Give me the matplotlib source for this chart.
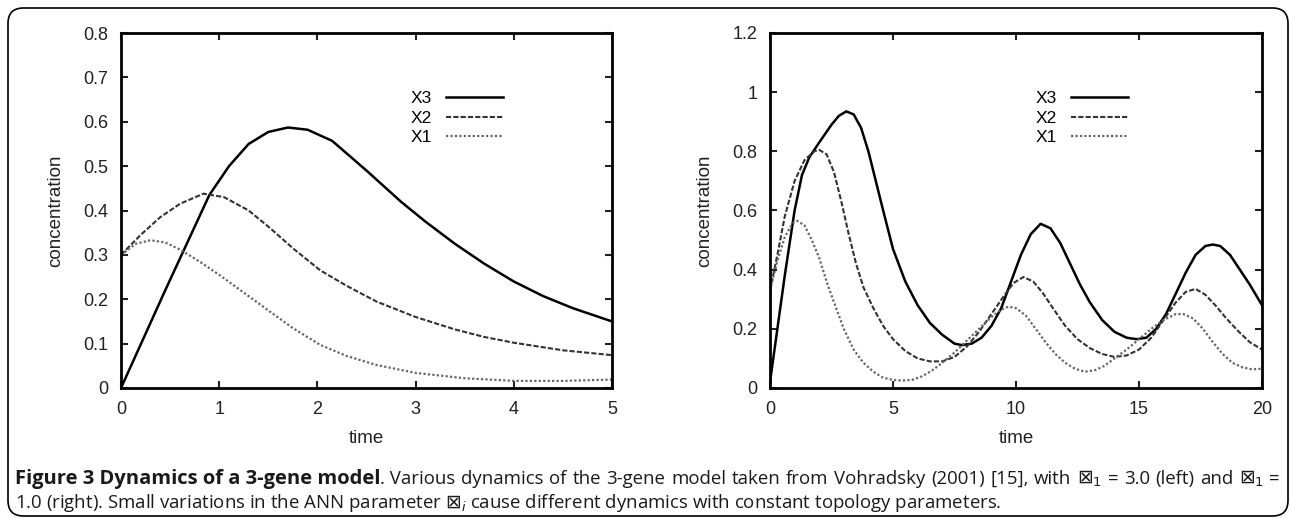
import matplotlib
matplotlib.use("Agg")
import matplotlib.pyplot as plt
from matplotlib.patches import FancyBboxPatch

# left panel data (t = 0..5)
t_left_x3 = [0, 0.45, 0.9, 1.1, 1.3, 1.5, 1.7, 1.9, 2.15, 2.5, 2.85, 3.1, 3.4, 3.7, 4.0, 4.3, 4.6, 5.0]
x3_left = [0.0, 0.22, 0.435, 0.5, 0.55, 0.577, 0.587, 0.582, 0.557, 0.49, 0.42, 0.375, 0.325, 0.28,
           0.24, 0.207, 0.18, 0.15]
t_left_x2 = [0, 0.2, 0.4, 0.6, 0.84, 1.05, 1.3, 1.52, 1.75, 2.03, 2.3, 2.6, 3.0, 3.4, 3.7, 4.0, 4.5, 5.0]
x2_left = [0.3, 0.345, 0.385, 0.415, 0.438, 0.43, 0.4, 0.36, 0.315, 0.265, 0.23, 0.195, 0.16, 0.132,
           0.115, 0.102, 0.085, 0.074]
t_left_x1 = [0, 0.15, 0.3, 0.45, 0.6, 0.8, 1.0, 1.25, 1.48, 1.75, 2.03, 2.3, 2.6, 3.0, 3.5, 4.0, 4.5, 5.0]
x1_left = [0.3, 0.325, 0.333, 0.328, 0.312, 0.285, 0.255, 0.215, 0.178, 0.135, 0.097, 0.072, 0.052,
           0.034, 0.022, 0.016, 0.016, 0.019]

# right panel data (t = 0..20)
t_right_x3 = [0, 0.3, 0.6, 1, 1.3, 1.6, 2, 2.5, 2.8, 3.1, 3.4, 3.7, 4, 4.3, 4.6, 5, 5.5, 6, 6.5, 7,
              7.5, 7.8, 8.2, 8.6, 9, 9.4, 9.8, 10.2, 10.6, 11, 11.4, 11.8, 12.2, 12.6, 13, 13.5, 14,
              14.5, 14.9, 15.3, 15.7, 16.1, 16.5, 16.9, 17.3, 17.7, 18, 18.3, 18.7, 19.1, 19.5, 20]
x3_right = [0.02, 0.2, 0.38, 0.6, 0.72, 0.78, 0.83, 0.89, 0.92, 0.935, 0.925, 0.88, 0.8, 0.7, 0.6,
            0.47, 0.36, 0.28, 0.22, 0.18, 0.15, 0.145, 0.15, 0.17, 0.21, 0.27, 0.36, 0.45, 0.52,
            0.555, 0.54, 0.49, 0.42, 0.35, 0.29, 0.23, 0.19, 0.17, 0.165, 0.17, 0.2, 0.25, 0.32,
            0.39, 0.45, 0.48, 0.485, 0.48, 0.45, 0.4, 0.35, 0.28]
t_right_x2 = [0, 0.3, 0.6, 1, 1.4, 1.8, 2, 2.3, 2.6, 2.9, 3.2, 3.5, 3.8, 4.2, 4.6, 5, 5.5, 6, 6.5, 7,
              7.5, 8, 8.5, 9, 9.5, 9.9, 10.3, 10.7, 11.1, 11.5, 12, 12.5, 13, 13.5, 14, 14.5, 15,
              15.5, 16, 16.5, 16.9, 17.3, 17.7, 18.1, 18.5, 19, 19.5, 20]
x2_right = [0.33, 0.45, 0.58, 0.7, 0.77, 0.8, 0.805, 0.79, 0.73, 0.63, 0.52, 0.42, 0.34, 0.27, 0.21,
            0.165, 0.125, 0.1, 0.09, 0.09, 0.105, 0.14, 0.19, 0.25, 0.31, 0.355, 0.375, 0.36, 0.32,
            0.27, 0.21, 0.165, 0.135, 0.115, 0.105, 0.11, 0.13, 0.17, 0.23, 0.29, 0.325, 0.335,
            0.315, 0.28, 0.24, 0.195, 0.155, 0.13]
t_right_x1 = [0, 0.3, 0.6, 0.9, 1.1, 1.4, 1.7, 2, 2.3, 2.6, 3, 3.4, 3.8, 4.2, 4.6, 5, 5.4, 5.8, 6.2,
              6.6, 7, 7.5, 8, 8.5, 9, 9.4, 9.7, 10, 10.4, 10.8, 11.2, 11.6, 12, 12.4, 12.8, 13.2,
              13.6, 14, 14.5, 15, 15.5, 16, 16.5, 16.8, 17.2, 17.6, 18, 18.4, 18.8, 19.2, 19.6, 20]
x1_right = [0.33, 0.43, 0.51, 0.555, 0.565, 0.55, 0.5, 0.44, 0.36, 0.29, 0.2, 0.13, 0.085, 0.055,
            0.035, 0.027, 0.025, 0.028, 0.04, 0.06, 0.085, 0.12, 0.16, 0.2, 0.24, 0.265, 0.275,
            0.27, 0.245, 0.2, 0.155, 0.115, 0.085, 0.065, 0.055, 0.06, 0.075, 0.1, 0.13, 0.165,
            0.2, 0.23, 0.25, 0.25, 0.235, 0.2, 0.155, 0.115, 0.085, 0.07, 0.063, 0.065]

left_yticks = [0, 0.1, 0.2, 0.3, 0.4, 0.5, 0.6, 0.7, 0.8]
left_ylabels = ["0", "0.1", "0.2", "0.3", "0.4", "0.5", "0.6", "0.7", "0.8"]
left_xticks = [0, 1, 2, 3, 4, 5]
right_yticks = [0, 0.2, 0.4, 0.6, 0.8, 1.0, 1.2]
right_ylabels = ["0", "0.2", "0.4", "0.6", "0.8", "1", "1.2"]
right_xticks = [0, 5, 10, 15, 20]

caption_bold = "Figure 3 Dynamics of a 3-gene model"
caption_line1 = [". Various", "dynamics", "of", "the", "3-gene", "model", "taken", "from", "Vohradsky",
                 "(2001)", "[15],", "with", r"$\boxtimes_1$", "=", "3.0", "(left)", "and",
                 r"$\boxtimes_1$", "="]
caption_line2 = ("1.0 (right). Small variations in the ANN parameter $\\boxtimes_i$ cause different "
                 "dynamics with constant topology parameters.")

plt.rcParams['font.family'] = ['Liberation Sans', 'DejaVu Sans']

fig = plt.figure(figsize=(12.9, 5.18), dpi=100)
W, H = 1290, 518

# rounded frame around the whole figure
frame = FancyBboxPatch((8 / W, 2 / H), (1288 - 8) / W, (510 - 2) / H,
                       boxstyle="round,pad=0,rounding_size=0.012",
                       transform=fig.transFigure, fill=False, ec="black", lw=1.2,
                       mutation_aspect=W / H)
fig.patches.append(frame)

ax1 = fig.add_axes([121 / W, 1 - 388 / H, (612 - 121) / W, (388 - 33) / H])
ax2 = fig.add_axes([770 / W, 1 - 388 / H, (1262 - 770) / W, (388 - 33) / H])

def style(ax, xlim, ylim, xticks, yticks, ylabels):
    ax.set_xlim(xlim)
    ax.set_ylim(ylim)
    ax.set_xticks(xticks)
    ax.set_xticklabels([str(v) for v in xticks])
    ax.set_yticks(yticks)
    ax.set_yticklabels(ylabels)
    ax.tick_params(direction="in", top=True, right=True, length=5, width=1.5,
                   labelsize=13, colors="#222222", pad=9)
    for s in ax.spines.values():
        s.set_linewidth(2)
    ax.set_xlabel("time", fontsize=13.5, labelpad=9, color="#222222")
    ax.set_ylabel("concentration", fontsize=13.5, labelpad=14, color="#222222")

def draw(ax, a, b, c, anchor):
    ax.plot(*a, color="black", lw=1.8, label="X3")
    ax.plot(*b, color="#333333", lw=1.5, dashes=(2.5, 1), label="X2")
    ax.plot(*c, color="#666666", lw=1.6, dashes=(1, 1), label="X1")
    hs, ls = ax.get_legend_handles_labels()
    ax.legend(hs, ls, loc="upper right", bbox_to_anchor=anchor, frameon=False,
              markerfirst=False, fontsize=12.5, handlelength=3.3, labelspacing=0.25,
              handletextpad=0.8)

draw(ax1, (t_left_x3, x3_left), (t_left_x2, x2_left), (t_left_x1, x1_left), (0.81, 0.88))
style(ax1, (0, 5), (0, 0.8), left_xticks, left_yticks, left_ylabels)
draw(ax2, (t_right_x3, x3_right), (t_right_x2, x2_right), (t_right_x1, x1_right), (0.76, 0.88))
style(ax2, (0, 20), (0, 1.2), right_xticks, right_yticks, right_ylabels)

# caption: size fitted to the reference line widths, first line justified
cap_font = ['Open Sans', 'DejaVu Sans']
fig.canvas.draw()
r = fig.canvas.get_renderer()
y1 = 1 - 479 / H
y2 = 1 - 503 / H

probe = fig.text(0, 0, caption_line2, fontsize=10, family=cap_font)
cap_size = 10 * (1003 - 15) / probe.get_window_extent(renderer=r).width
probe.remove()
probe = fig.text(0, 0, caption_bold, fontsize=10, fontweight="bold", family=cap_font)
bold_size = 10 * (380 - 15) / probe.get_window_extent(renderer=r).width
probe.remove()

t1 = fig.text(15 / W, y1, caption_bold, fontsize=bold_size, fontweight="bold",
              family=cap_font, va="center", color="#1a1a1a")
x0 = t1.get_window_extent(renderer=r).x1
objs = [fig.text(0, y1, w, fontsize=cap_size, family=cap_font, va="center", color="#1a1a1a")
        for w in caption_line1]
widths = [o.get_window_extent(renderer=r).width for o in objs]
gap = (1280 - x0 - sum(widths)) / (len(caption_line1) - 1)
xc = x0
for o, w in zip(objs, widths):
    o.set_x(xc / W)
    xc += w + gap
fig.text(15 / W, y2, caption_line2, fontsize=cap_size, family=cap_font, va="center",
         color="#1a1a1a")

fig.savefig("out.png", dpi=100)
